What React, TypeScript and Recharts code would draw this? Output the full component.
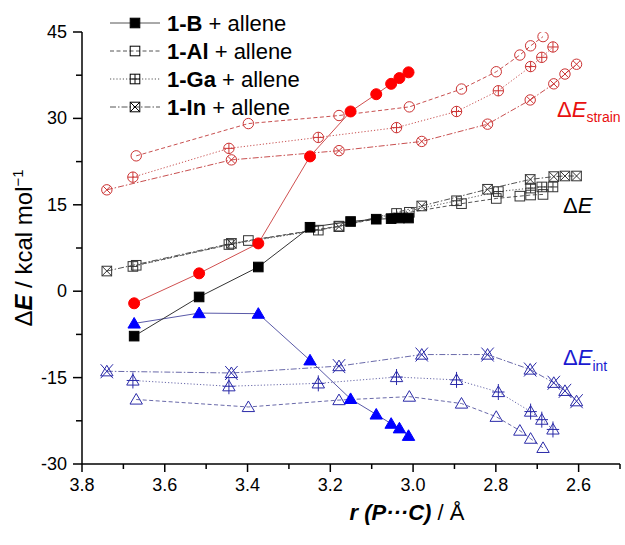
import React from 'react';
import { ScatterChart, Scatter, XAxis, YAxis } from 'recharts';

const FONT = '"Liberation Sans", Arial, Helvetica, sans-serif';

// ---- data (r(P···C) in Å, energies in kcal/mol) ----
const rB = [3.674, 3.517, 3.374, 3.249, 3.151, 3.089, 3.053, 3.033, 3.011];
const dE_B = [-7.8, -1.0, 4.2, 11.1, 12.1, 12.5, 12.6, 12.7, 12.7];
const strain_B = [-2.1, 3.1, 8.3, 23.4, 31.2, 34.2, 36.0, 37.0, 38.0];
const int_B = [-5.6, -3.8, -3.9, -12.0, -18.7, -21.4, -23.0, -23.8, -25.1];

const rAl = [3.669, 3.398, 3.179, 3.009, 2.883, 2.799, 2.742, 2.716, 2.686];
const dE_Al = [4.5, 8.8, 11.3, 13.7, 15.2, 16.1, 16.5, 16.7, 16.8];
const strain_Al = [23.5, 29.1, 30.5, 32.0, 35.1, 38.1, 41.0, 42.6, 44.2];
const int_Al = [-18.8, -20.1, -18.9, -18.3, -19.5, -21.8, -24.2, -25.6, -27.2];

const rGa = [3.677, 3.445, 3.229, 3.040, 2.895, 2.794, 2.716, 2.689, 2.662];
const dE_Ga = [4.3, 8.1, 10.6, 13.5, 15.7, 17.3, 17.9, 18.1, 18.1];
const strain_Ga = [19.8, 24.8, 26.7, 28.4, 31.2, 34.8, 39.0, 40.6, 42.4];
const int_Ga = [-15.5, -16.5, -16.0, -14.9, -15.4, -17.5, -20.9, -22.3, -24.0];

const rIn = [3.740, 3.439, 3.179, 2.979, 2.820, 2.717, 2.660, 2.633, 2.605];
const dE_In = [3.5, 8.3, 11.2, 14.8, 17.7, 19.4, 19.9, 20.0, 20.0];
const strain_In = [17.6, 22.8, 24.4, 26.0, 29.0, 33.2, 36.0, 37.7, 39.4];
const int_In = [-13.9, -14.2, -13.0, -11.0, -11.0, -13.6, -15.9, -17.3, -19.1];

const xTicks = [2.5, 2.6, 2.7, 2.8, 2.9, 3.0, 3.1, 3.2, 3.3, 3.4, 3.5, 3.6, 3.7, 3.8];
const xMajor = [2.6, 2.8, 3.0, 3.2, 3.4, 3.6, 3.8];
const yTicks = [-30, -22.5, -15, -7.5, 0, 7.5, 15, 22.5, 30, 37.5, 45];
const yMajor = [-30, -15, 0, 15, 30, 45];

const legendLabels = [
  { bold: '1-B', rest: ' + allene', kind: 'sqFill', dash: undefined },
  { bold: '1-Al', rest: ' + allene', kind: 'sq', dash: '4 2.5' },
  { bold: '1-Ga', rest: ' + allene', kind: 'sqPlus', dash: '1.2 2' },
  { bold: '1-In', rest: ' + allene', kind: 'sqX', dash: '6 2 1.5 2' },
];

const pts = (xs: number[], ys: number[]) => xs.map((x, i) => ({ x, y: ys[i] }));

function Marker({ cx, cy, kind, color }: { cx: number; cy: number; kind: string; color: string }) {
  if (cx == null || cy == null) return null;
  const s = 4.8;
  const r = 5.2;
  const sw = 1;
  const tw = 6.2;
  const tTop = cy - 6;
  const tBot = cy + 4.6;
  const triPath = `M${cx},${tTop} L${cx + tw},${tBot} L${cx - tw},${tBot} Z`;
  switch (kind) {
    case 'sqFill':
      return <rect x={cx - s} y={cy - s} width={2 * s} height={2 * s} fill={color} stroke={color} strokeWidth={sw} />;
    case 'sq':
      return <rect x={cx - s} y={cy - s} width={2 * s} height={2 * s} fill="none" stroke={color} strokeWidth={sw} />;
    case 'sqPlus':
      return (
        <g stroke={color} strokeWidth={sw} fill="none">
          <rect x={cx - s} y={cy - s} width={2 * s} height={2 * s} />
          <line x1={cx} y1={cy - s} x2={cx} y2={cy + s} />
          <line x1={cx - s} y1={cy} x2={cx + s} y2={cy} />
        </g>
      );
    case 'sqX':
      return (
        <g stroke={color} strokeWidth={sw} fill="none">
          <rect x={cx - s} y={cy - s} width={2 * s} height={2 * s} />
          <line x1={cx - s} y1={cy - s} x2={cx + s} y2={cy + s} />
          <line x1={cx + s} y1={cy - s} x2={cx - s} y2={cy + s} />
        </g>
      );
    case 'cFill':
      return <circle cx={cx} cy={cy} r={r + 0.3} fill={color} stroke={color} strokeWidth={sw} />;
    case 'c':
      return <circle cx={cx} cy={cy} r={r} fill="none" stroke={color} strokeWidth={sw} />;
    case 'cPlus':
      return (
        <g stroke={color} strokeWidth={sw} fill="none">
          <circle cx={cx} cy={cy} r={r} />
          <line x1={cx} y1={cy - r} x2={cx} y2={cy + r} />
          <line x1={cx - r} y1={cy} x2={cx + r} y2={cy} />
        </g>
      );
    case 'cX': {
      const d = r * 0.707;
      return (
        <g stroke={color} strokeWidth={sw} fill="none">
          <circle cx={cx} cy={cy} r={r} />
          <line x1={cx - d} y1={cy - d} x2={cx + d} y2={cy + d} />
          <line x1={cx + d} y1={cy - d} x2={cx - d} y2={cy + d} />
        </g>
      );
    }
    case 'tFill':
      return <path d={triPath} fill={color} stroke={color} strokeWidth={sw} />;
    case 't':
      return <path d={triPath} fill="none" stroke={color} strokeWidth={sw} />;
    case 'tPlus':
      return (
        <g stroke={color} strokeWidth={sw} fill="none">
          <path d={triPath} />
          <line x1={cx} y1={cy - 8} x2={cx} y2={cy + 8} />
          <line x1={cx - tw} y1={cy} x2={cx + tw} y2={cy} />
        </g>
      );
    case 'tX':
      return (
        <g stroke={color} strokeWidth={sw} fill="none">
          <path d={triPath} />
          <line x1={cx - tw} y1={cy - 7} x2={cx + tw} y2={cy + 7} />
          <line x1={cx + tw} y1={cy - 7} x2={cx - tw} y2={cy + 7} />
        </g>
      );
    default:
      return null;
  }
}

type SeriesDef = {
  id: string;
  xs: number[];
  ys: number[];
  kind: string;
  mColor: string;
  lColor: string;
  dash?: string;
};

const RED_M = '#cc3333';
const RED_L = '#c85050';
const BLUE_M = '#2a2aa8';
const BLUE_L = '#6a6aaa';
const GREY_M = '#333333';
const GREY_L = '#555555';

const series: SeriesDef[] = [
  { id: 'sAl', xs: rAl, ys: strain_Al, kind: 'c', mColor: RED_M, lColor: RED_L, dash: '4 2.5' },
  { id: 'sGa', xs: rGa, ys: strain_Ga, kind: 'cPlus', mColor: RED_M, lColor: RED_L, dash: '1.2 2' },
  { id: 'sIn', xs: rIn, ys: strain_In, kind: 'cX', mColor: RED_M, lColor: RED_L, dash: '6 2 1.5 2' },
  { id: 'iAl', xs: rAl, ys: int_Al, kind: 't', mColor: BLUE_M, lColor: BLUE_L, dash: '4 2.5' },
  { id: 'iGa', xs: rGa, ys: int_Ga, kind: 'tPlus', mColor: BLUE_M, lColor: BLUE_L, dash: '1.2 2' },
  { id: 'iIn', xs: rIn, ys: int_In, kind: 'tX', mColor: BLUE_M, lColor: BLUE_L, dash: '6 2 1.5 2' },
  { id: 'eAl', xs: rAl, ys: dE_Al, kind: 'sq', mColor: GREY_M, lColor: GREY_L, dash: '4 2.5' },
  { id: 'eGa', xs: rGa, ys: dE_Ga, kind: 'sqPlus', mColor: GREY_M, lColor: GREY_L, dash: '1.2 2' },
  { id: 'eIn', xs: rIn, ys: dE_In, kind: 'sqX', mColor: GREY_M, lColor: GREY_L, dash: '6 2 1.5 2' },
  { id: 'sB', xs: rB, ys: strain_B, kind: 'cFill', mColor: '#ff0000', lColor: '#d05050' },
  { id: 'iB', xs: rB, ys: int_B, kind: 'tFill', mColor: '#0000ff', lColor: '#5a5aa8' },
  { id: 'eB', xs: rB, ys: dE_B, kind: 'sqFill', mColor: '#000000', lColor: '#333333' },
];

const near = (arr: number[], v: number) => arr.some((a) => Math.abs(a - v) < 1e-6);

function XTick(props: any) {
  const { x, y, payload } = props;
  const major = near(xMajor, payload.value);
  return (
    <g>
      <line x1={x} y1={y} x2={x} y2={y + (major ? 8 : 5)} stroke="#000" strokeWidth={1.5} />
      {major && (
        <text x={x} y={y + 27} textAnchor="middle" fontSize={18} fontFamily={FONT} fill="#000">
          {payload.value.toFixed(1)}
        </text>
      )}
    </g>
  );
}

function YTick(props: any) {
  const { x, y, payload } = props;
  const major = near(yMajor, payload.value);
  return (
    <g>
      <line x1={x} y1={y} x2={x - (major ? 9 : 6)} y2={y} stroke="#000" strokeWidth={1.5} />
      {major && (
        <text x={x - 15} y={y + 6} textAnchor="end" fontSize={18} fontFamily={FONT} fill="#000">
          {payload.value}
        </text>
      )}
    </g>
  );
}

function LegendBlock() {
  const rowY = [23, 51, 79, 107];
  return (
    <g fontFamily={FONT}>
      {legendLabels.map((it, i) => (
        <g key={it.bold}>
          <line x1={110} y1={rowY[i]} x2={160} y2={rowY[i]} stroke="#555" strokeWidth={1} strokeDasharray={it.dash} />
          <Marker cx={135} cy={rowY[i]} kind={it.kind} color="#000" />
          <text x={167} y={rowY[i] + 8} fontSize={22} fill="#000">
            <tspan fontWeight="bold">{it.bold}</tspan>
            <tspan>{it.rest}</tspan>
          </text>
        </g>
      ))}
    </g>
  );
}

export default function App() {
  return (
    <div style={{ position: 'absolute', left: 0, top: 0, width: 625, height: 545, background: '#fff' }}>
      <ScatterChart width={625} height={545} margin={{ top: 32, right: 5, bottom: 21, left: 0 }}>
        <XAxis
          type="number"
          dataKey="x"
          domain={[2.5, 3.8]}
          reversed
          allowDataOverflow
          ticks={xTicks}
          interval={0}
          tick={<XTick />}
          tickLine={false}
          tickSize={0}
          tickMargin={0}
          height={60}
          axisLine={{ stroke: '#000', strokeWidth: 1.5 }}
        />
        <YAxis
          type="number"
          dataKey="y"
          domain={[-30, 45]}
          allowDataOverflow
          ticks={yTicks}
          interval={0}
          tick={<YTick />}
          tickLine={false}
          tickSize={0}
          tickMargin={0}
          width={82}
          axisLine={{ stroke: '#000', strokeWidth: 1.5 }}
        />
        {series.map((s) => (
          <Scatter
            key={s.id}
            name={s.id}
            data={pts(s.xs, s.ys)}
            line={{ stroke: s.lColor, strokeWidth: 1, strokeDasharray: s.dash }}
            lineType="joint"
            shape={(p: any) => <Marker cx={p.cx} cy={p.cy} kind={s.kind} color={s.mColor} />}
            isAnimationActive={false}
            legendType="none"
          />
        ))}
        <LegendBlock />
        <text x={557} y={117} fontFamily={FONT} fontSize={22} fill="#e81010">
          Δ<tspan fontStyle="italic">E</tspan>
          <tspan fontSize={14} dy={5}>strain</tspan>
        </text>
        <text x={563} y={213} fontFamily={FONT} fontSize={22} fill="#000">
          Δ<tspan fontStyle="italic">E</tspan>
        </text>
        <text x={563} y={365} fontFamily={FONT} fontSize={22} fill="#1a1ad0">
          Δ<tspan fontStyle="italic">E</tspan>
          <tspan fontSize={14} dy={6}>int</tspan>
        </text>
        <text x={407} y={520} textAnchor="middle" fontFamily={FONT} fontSize={22} fill="#000">
          <tspan fontWeight="bold" fontStyle="italic">r (P···C)</tspan>
          <tspan> / Å</tspan>
        </text>
        <text transform="translate(32, 248) rotate(-90)" textAnchor="middle" fontFamily={FONT} fontSize={24} fill="#000">
          Δ<tspan fontWeight="bold" fontStyle="italic">E</tspan>
          <tspan> / kcal mol</tspan>
          <tspan fontSize={15} dy={-9}>−1</tspan>
        </text>
      </ScatterChart>
    </div>
  );
}
